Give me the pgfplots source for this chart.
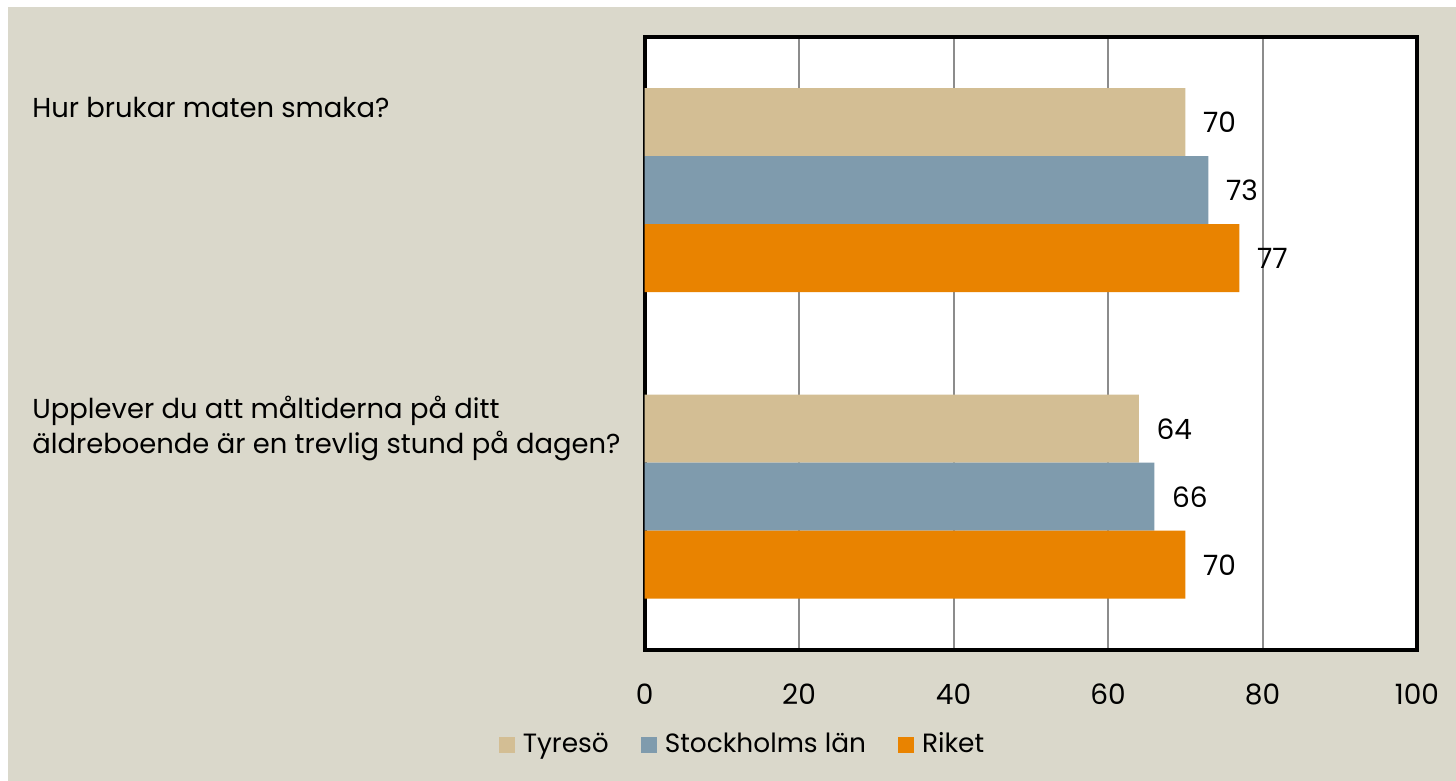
\documentclass[border=0pt]{standalone}
\usepackage{pgfplots}
\pgfplotsset{compat=1.18}
\usepackage{fontspec}
\setmainfont{Poppins}
\definecolor{bgbeige}{HTML}{DAD8CB}
\definecolor{ctyreso}{HTML}{D3BE94}
\definecolor{cstock}{HTML}{7F9BAD}
\definecolor{criket}{HTML}{E98300}
\definecolor{gridgray}{HTML}{8C8C8C}
\begin{document}
\fontsize{14pt}{17pt}\selectfont
\begin{tikzpicture}
\useasboundingbox (0,0) rectangle (728pt,390.5pt);
\fill[white] (0,0) rectangle (728pt,390.5pt);
\fill[bgbeige] (4pt,0) rectangle (728pt,387pt);
\begin{axis}[
  at={(322.3pt,65.5pt)}, anchor=south west,
  scale only axis, width=386.2pt, height=306.5pt,
  xmin=0, xmax=100, ymin=-0.5, ymax=1.5,
  xtick={0,20,40,60,80,100},
  ytick=\empty,
  major tick length=0pt,
  xmajorgrids, grid style={gridgray, line width=1pt},
  axis line style={black, line width=2pt},
  axis background/.style={fill=white},
  xbar, bar width=34pt,
  /pgf/number format/assume math mode=true,
  tick label style={font=\fontsize{14pt}{17pt}\selectfont},
  xticklabel style={yshift=-12pt},
  nodes near coords,
  every node near coord/.append style={anchor=west, xshift=4pt, font=\fontsize{14pt}{17pt}\selectfont, text=black},
  legend style={at={(0.128,-0.155)}, anchor=center, draw=none, fill=none,
    legend columns=3, font=\fontsize{13.2pt}{17pt}\selectfont,
    /tikz/every even column/.append style={column sep=14pt}},
  legend image code/.code={\fill[#1] (0pt,-4pt) rectangle (8pt,4pt); \path (10pt,0pt);},
]
\addplot[fill=ctyreso, draw=none, bar shift=34pt] coordinates {(70,1) (64,0)};
\addlegendentry{Tyresö}
\addplot[fill=cstock, draw=none, bar shift=0pt] coordinates {(73,1) (66,0)};
\addlegendentry{Stockholms län}
\addplot[fill=criket, draw=none, bar shift=-34pt] coordinates {(77,1) (70,0)};
\addlegendentry{Riket}
\end{axis}
\node[anchor=west, inner sep=0pt, font=\fontsize{13.7pt}{17pt}\selectfont] at (16pt,337pt) {Hur brukar maten smaka?};
\node[anchor=west, inner sep=0pt, align=left, font=\fontsize{13.7pt}{17.5pt}\selectfont] at (16pt,176pt) {Upplever du att måltiderna på ditt\\äldreboende är en trevlig stund på dagen?};
\end{tikzpicture}
\end{document}
